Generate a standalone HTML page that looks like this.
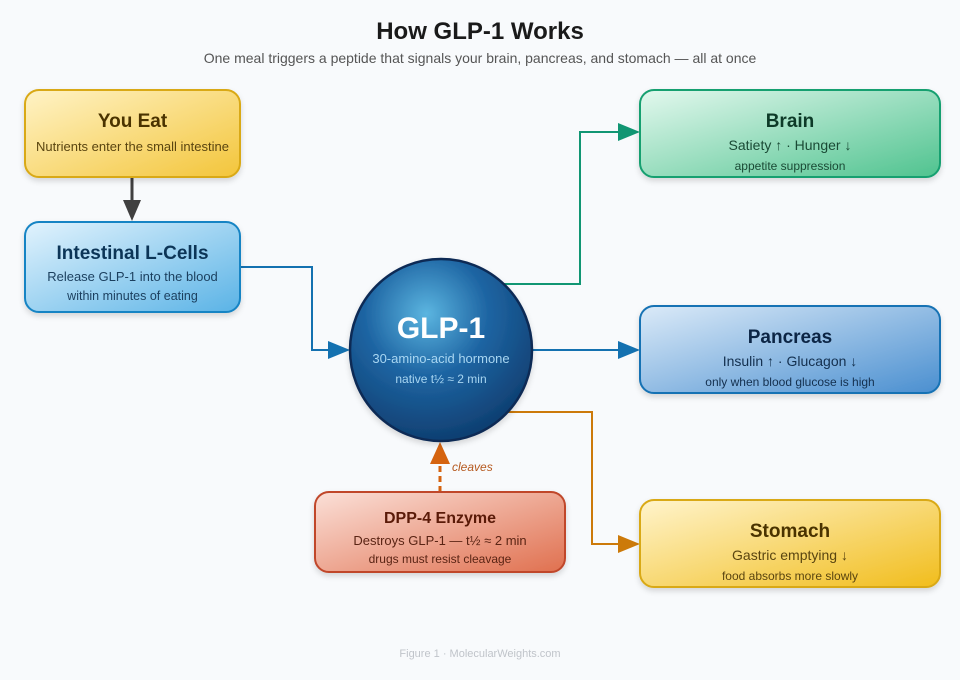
<!DOCTYPE html>
<html><head><meta charset="utf-8"><style>
html,body{margin:0;padding:0;background:#f8fafc;}
svg{display:block;font-family:"Liberation Sans",Arial,sans-serif;}
</style></head><body>
<svg width="960" height="680" viewBox="0 0 960 680">
<defs>
<linearGradient id="gy" x1="0" y1="0" x2="1" y2="1"><stop offset="0" stop-color="#fff3c6"/><stop offset="1" stop-color="#f3c53a"/></linearGradient>
<linearGradient id="gb" x1="0" y1="0" x2="1" y2="1"><stop offset="0" stop-color="#e2f3fd"/><stop offset="1" stop-color="#5ab3e6"/></linearGradient>
<linearGradient id="gg" x1="0" y1="0" x2="1" y2="1"><stop offset="0" stop-color="#e3f8ee"/><stop offset="1" stop-color="#4fc38f"/></linearGradient>
<linearGradient id="gp" x1="0" y1="0" x2="1" y2="1"><stop offset="0" stop-color="#dbeaf8"/><stop offset="1" stop-color="#4a8fd0"/></linearGradient>
<linearGradient id="gs" x1="0" y1="0" x2="1" y2="1"><stop offset="0" stop-color="#fff4cc"/><stop offset="1" stop-color="#f1bd1c"/></linearGradient>
<linearGradient id="gr" x1="0" y1="0" x2="1" y2="1"><stop offset="0" stop-color="#fbe0d8"/><stop offset="1" stop-color="#e0704f"/></linearGradient>
<radialGradient id="gc" cx="0.42" cy="0.3" r="0.75"><stop offset="0" stop-color="#5bb5e0"/><stop offset="0.45" stop-color="#1e65a3"/><stop offset="1" stop-color="#0d3a6b"/></radialGradient>
<filter id="sh" x="-10%" y="-10%" width="120%" height="130%"><feDropShadow dx="0" dy="3" stdDeviation="3" flood-opacity="0.15"/></filter>
</defs>
<text x="480" y="39" text-anchor="middle" font-size="24" font-weight="bold" fill="#1a1a1a">How GLP-1 Works</text>
<text x="480" y="63" text-anchor="middle" font-size="14" fill="#555">One meal triggers a peptide that signals your brain, pancreas, and stomach — all at once</text>

<!-- connectors -->
<line x1="132" y1="177" x2="132" y2="205" stroke="#404040" stroke-width="3"/>
<polygon points="123,200 141,200 132,221" fill="#404040"/>
<polyline points="240,267 312,267 312,350 334,350" fill="none" stroke="#1471b0" stroke-width="2"/>
<polygon points="328,341 350,350 328,359" fill="#1471b0"/>
<polyline points="502,284 580,284 580,132 622,132" fill="none" stroke="#119673" stroke-width="2"/>
<polygon points="618,123 640,132 618,141" fill="#119673"/>
<line x1="532" y1="350" x2="622" y2="350" stroke="#1471b0" stroke-width="2"/>
<polygon points="618,341 640,350 618,359" fill="#1471b0"/>
<polyline points="507,412 592,412 592,544 622,544" fill="none" stroke="#cc7a0a" stroke-width="2"/>
<polygon points="618,535 640,544 618,553" fill="#cc7a0a"/>
<line x1="440" y1="492" x2="440" y2="462" stroke="#d5630f" stroke-width="3" stroke-dasharray="6,4"/>
<polygon points="430,464 450,464 440,442" fill="#d5630f"/>
<text x="452" y="471" font-size="12" font-style="italic" fill="#b5591f">cleaves</text>

<!-- boxes -->
<rect x="25" y="90" width="215" height="87" rx="14" fill="url(#gy)" stroke="#d9a913" stroke-width="2" filter="url(#sh)"/>
<text x="132.5" y="127" text-anchor="middle" font-size="19" font-weight="bold" fill="#4a3300">You Eat</text>
<text x="132.5" y="151" text-anchor="middle" font-size="13" fill="#5a4510">Nutrients enter the small intestine</text>

<rect x="25" y="222" width="215" height="90" rx="14" fill="url(#gb)" stroke="#1684c4" stroke-width="2" filter="url(#sh)"/>
<text x="132.5" y="259" text-anchor="middle" font-size="19" font-weight="bold" fill="#0c3557">Intestinal L-Cells</text>
<text x="132.5" y="281" text-anchor="middle" font-size="13" fill="#1b3f5e">Release GLP-1 into the blood</text>
<text x="132.5" y="300" text-anchor="middle" font-size="12.5" fill="#1b3f5e">within minutes of eating</text>

<rect x="640" y="90" width="300" height="87" rx="14" fill="url(#gg)" stroke="#16a070" stroke-width="2" filter="url(#sh)"/>
<text x="790" y="127" text-anchor="middle" font-size="19" font-weight="bold" fill="#0d3a28">Brain</text>
<text x="790" y="150" text-anchor="middle" font-size="14" fill="#1a4a35">Satiety ↑ · Hunger ↓</text>
<text x="790" y="170" text-anchor="middle" font-size="12" fill="#1a4a35">appetite suppression</text>

<rect x="640" y="306" width="300" height="87" rx="14" fill="url(#gp)" stroke="#1672b4" stroke-width="2" filter="url(#sh)"/>
<text x="790" y="343" text-anchor="middle" font-size="19" font-weight="bold" fill="#0c2545">Pancreas</text>
<text x="790" y="366" text-anchor="middle" font-size="14" fill="#14304f">Insulin ↑ · Glucagon ↓</text>
<text x="790" y="386" text-anchor="middle" font-size="12" fill="#14304f">only when blood glucose is high</text>

<rect x="640" y="500" width="300" height="87" rx="14" fill="url(#gs)" stroke="#d9a913" stroke-width="2" filter="url(#sh)"/>
<text x="790" y="537" text-anchor="middle" font-size="19" font-weight="bold" fill="#4a3300">Stomach</text>
<text x="790" y="560" text-anchor="middle" font-size="14" fill="#5a4510">Gastric emptying ↓</text>
<text x="790" y="580" text-anchor="middle" font-size="12" fill="#5a4510">food absorbs more slowly</text>

<rect x="315" y="492" width="250" height="80" rx="14" fill="url(#gr)" stroke="#c0462a" stroke-width="2" filter="url(#sh)"/>
<text x="440" y="523" text-anchor="middle" font-size="16" font-weight="bold" fill="#5a1a08">DPP-4 Enzyme</text>
<text x="440" y="545" text-anchor="middle" font-size="13" fill="#5a2414">Destroys GLP-1 — t½ ≈ 2 min</text>
<text x="440" y="563" text-anchor="middle" font-size="12" fill="#5a2414">drugs must resist cleavage</text>

<circle cx="441" cy="350" r="91" fill="url(#gc)" stroke="#0b2a55" stroke-width="2.5" filter="url(#sh)"/>
<text x="441" y="338" text-anchor="middle" font-size="30" font-weight="bold" fill="#ffffff">GLP-1</text>
<text x="441" y="363" text-anchor="middle" font-size="13" fill="#a8d6f2">30-amino-acid hormone</text>
<text x="441" y="383" text-anchor="middle" font-size="12" fill="#a8d6f2">native t½ ≈ 2 min</text>

<text x="480" y="657" text-anchor="middle" font-size="11" fill="#c0c4ca">Figure 1 · MolecularWeights.com</text>
</svg>
</body></html>
